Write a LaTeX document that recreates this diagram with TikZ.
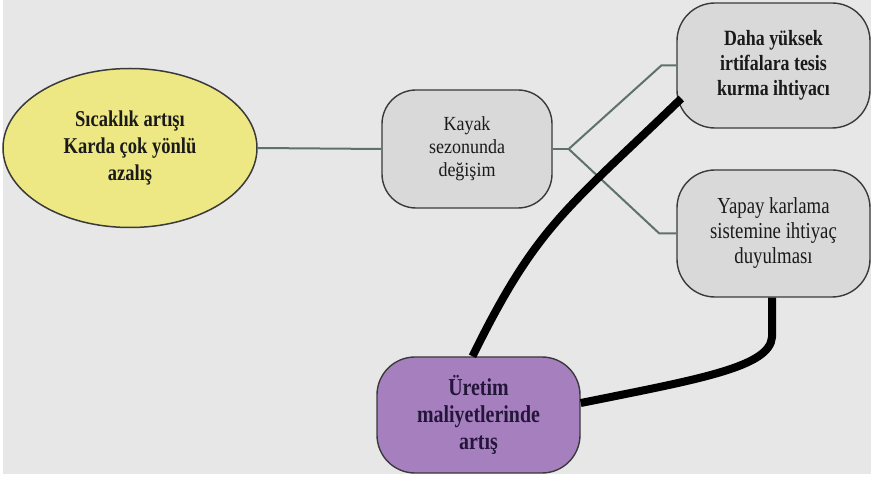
\documentclass[tikz,border=0pt]{standalone}
\usepackage{fontspec}
\setmainfont{Liberation Serif}[FakeStretch=0.82]
\newfontfamily\plainserif{Liberation Serif}[FakeStretch=0.9]
\usetikzlibrary{shapes.geometric,calc}

\definecolor{canvas}{HTML}{E6E7E6}
\definecolor{sunfill}{HTML}{EEE884}
\definecolor{boxfill}{HTML}{D9D9D9}
\definecolor{costfill}{HTML}{A680BE}
\definecolor{edgeline}{HTML}{3A3A3A}
\definecolor{branch}{HTML}{5E716D}
\definecolor{inktext}{HTML}{1A1A1A}
\definecolor{costtext}{HTML}{24163A}

\tikzset{
  causebox/.style={ellipse, draw=edgeline, line width=1.5pt, fill=sunfill,
    text=inktext, align=center, inner sep=0pt},
  effectbox/.style={rectangle, rounded corners=38pt, draw=edgeline,
    line width=1.4pt, fill=boxfill, text=inktext, align=center, inner sep=0pt},
  costbox/.style={effectbox, fill=costfill, text=costtext},
  thinlink/.style={draw=branch, line width=2pt},
  heavylink/.style={draw=black, line width=8pt}
}

\begin{document}
\begin{tikzpicture}[x=1pt, y=1pt]
  % page and canvas
  \fill[white] (0,0) rectangle (871,477);
  \fill[canvas] (3,3) rectangle (871,477);
  \useasboundingbox (0,0) rectangle (871,477);

  % nodes
  \node[causebox, minimum width=254pt, minimum height=159pt,
        font=\bfseries\fontsize{22.6}{27}\selectfont] (cause) at (130,329)
        {Sıcaklık artışı\\Karda çok yönlü\\azalış};

  \node[effectbox, rounded corners=34pt, minimum width=170pt, minimum height=118pt,
        font=\plainserif\fontsize{20}{23}\selectfont] (season) at (467,328)
        {Kayak\\sezonunda\\değişim};

  \node[effectbox, minimum width=193pt, minimum height=125pt,
        font=\bfseries\fontsize{21.8}{25}\selectfont] (altitude) at (773.5,411.5)
        {Daha yüksek\\irtifalara tesis\\kurma ihtiyacı};

  \node[effectbox, minimum width=193pt, minimum height=127pt,
        font=\fontsize{22.9}{25}\selectfont] (snowmaking) at (773.5,243.5)
        {Yapay karlama\\sistemine ihtiyaç\\duyulması};

  \node[costbox, minimum width=203pt, minimum height=116pt,
        font=\bfseries\fontsize{24.3}{27}\selectfont] (cost) at (478.5,62)
        {Üretim\\maliyetlerinde\\artış};

  % branching links
  \coordinate (fork) at ($(season.east)+(16,0)$);
  \draw[thinlink] (cause.east) -- (season.west);
  \draw[thinlink] (season.east) -- (fork);
  \draw[thinlink] (fork) -- ($(altitude.west)+(-15,0)$) -- (altitude.west);
  \draw[thinlink] (fork) -- ($(snowmaking.west)+(-17,0)$) -- (snowmaking.west);

  % heavy links to the cost node
  \draw[heavylink] ([xshift=-6pt]cost.north)
    .. controls (537,252) and (566,267) ..
    ([xshift=5pt,yshift=-33pt]altitude.west);
  \draw[heavylink] ([yshift=12pt]cost.east)
    .. controls (700,98) and (770,110) .. (772,140)
    -- ([xshift=-1.5pt]snowmaking.south);
\end{tikzpicture}
\end{document}
